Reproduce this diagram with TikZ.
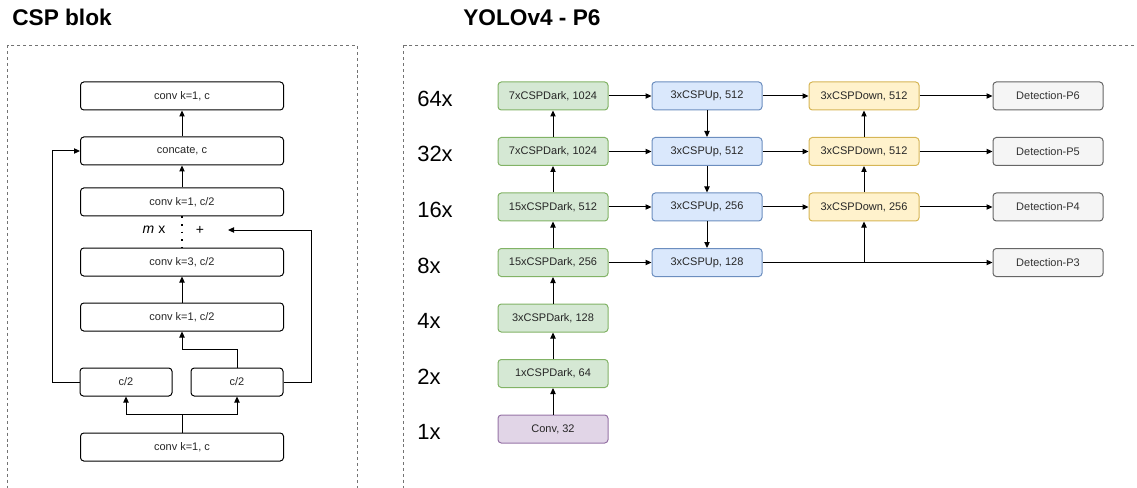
\documentclass[tikz,border=0pt]{standalone}
\usepackage{fontspec}
\setmainfont{Liberation Sans}
\usepackage{tikz}
\usetikzlibrary{arrows.meta}
\definecolor{grfill}{HTML}{D5E8D4}\definecolor{grline}{HTML}{82B366}
\definecolor{blfill}{HTML}{DAE8FC}\definecolor{blline}{HTML}{6C8EBF}
\definecolor{yefill}{HTML}{FFF2CC}\definecolor{yeline}{HTML}{D6B656}
\definecolor{pufill}{HTML}{E1D5E7}\definecolor{puline}{HTML}{9673A6}
\definecolor{gyfill}{HTML}{F5F5F5}\definecolor{gyline}{HTML}{666666}
\definecolor{gytext}{HTML}{333333}

\begin{document}
\begin{tikzpicture}[x=0.75pt,y=-0.75pt,
  box/.style={draw,line width=0.75pt,rounded corners=2.5pt,minimum height=21pt,inner sep=0pt,font=\fontsize{8.25}{9}\selectfont,text=black!85},
  wide/.style={box,minimum width=152.25pt},
  half/.style={box,minimum width=69pt},
  yb/.style={box,minimum width=82.5pt},
  dark/.style={yb,fill=grfill,draw=grline},
  up/.style={yb,fill=blfill,draw=blline},
  down/.style={yb,fill=yefill,draw=yeline},
  first/.style={yb,fill=pufill,draw=puline},
  det/.style={yb,fill=gyfill,draw=gyline,text=gytext},
  scale label/.style={anchor=base west,inner sep=0pt,font=\fontsize{16.5}{18}\selectfont},
  title/.style={anchor=base west,inner sep=0pt,font=\fontsize{17}{19}\selectfont\bfseries},
  arr/.style={-{Triangle[length=4.5pt,width=4pt]},line width=0.75pt},
  frame/.style={draw=black!55,line width=0.6pt,dash pattern=on 2.2pt off 2.2pt}]
\clip (0,0) rectangle (1137,488);
\node[title] (t1) at (12,26) {CSP blok};
\node[title] (t2) at (463,26) {YOLOv4 - P6};
\draw[frame] (7,45.5) rectangle (357,500);
\draw[frame] (403,45.5) rectangle (1150,500);

% CSP blok
\node[wide] (top) at (182,96) {conv k=1, c};
\node[wide] (cat) at (182,151) {concate, c};
\node[wide] (cb) at (182,202) {conv k=1, c/2};
\node[wide] (c3) at (182,262) {conv k=3, c/2};
\node[wide] (ca) at (182,317) {conv k=1, c/2};
\node[half] (sl) at (126,382) {c/2};
\node[half] (sr) at (237,382) {c/2};
\node[wide] (bot) at (182,447) {conv k=1, c};
\node[inner sep=0pt,font=\fontsize{10.5}{12}\selectfont] (mx) at (154,230) {\itshape m\upshape\ x};
\node[inner sep=0pt,font=\fontsize{10.5}{12}\selectfont] (plus) at (200,230) {+};
\coordinate (rep) at (228,230);
\draw[arr] (cat) -- (top);
\draw[arr] (cb) -- (cat);
\draw[arr] (ca) -- (c3);
\draw[line width=1.3pt,dash pattern=on 1.3pt off 4.4pt] (cb.south) -- (c3.north);
\draw[arr] (sr.north) -- ++(0,-18) -| (ca.south);
\draw (bot.north) -- ++(0,-18) coordinate (split);
\draw[arr] (split) -| (sl.south);
\draw[arr] (split) -| (sr.south);
\draw[arr] (sl.west) -- ++(-27.5,0) |- (cat.west);
\draw[arr] (sr.east) -- ++(28,0) |- (rep);

% YOLOv4 - P6
\foreach \lab/\y in {64x/96,32x/151.5,16x/207,8x/262.5,4x/318,2x/373.5,1x/429}
  \node[scale label] at (417,\y+10.5) {\lab};
\node[dark] (d64) at (553,96) {7xCSPDark, 1024};
\node[dark] (d32) at (553,151.5) {7xCSPDark, 1024};
\node[dark] (d16) at (553,207) {15xCSPDark, 512};
\node[dark] (d8) at (553,262.5) {15xCSPDark, 256};
\node[dark] (d4) at (553,318) {3xCSPDark, 128};
\node[dark] (d2) at (553,373.5) {1xCSPDark, 64};
\node[first] (d1) at (553,429) {Conv, 32};
\node[up] (u64) at (707,96) {3xCSPUp, 512};
\node[up] (u32) at (707,151.5) {3xCSPUp, 512};
\node[up] (u16) at (707,207) {3xCSPUp, 256};
\node[up] (u8) at (707,262.5) {3xCSPUp, 128};
\node[down] (y64) at (864,96) {3xCSPDown, 512};
\node[down] (y32) at (864,151.5) {3xCSPDown, 512};
\node[down] (y16) at (864,207) {3xCSPDown, 256};
\node[det] (g6) at (1048,96) {Detection-P6};
\node[det] (g5) at (1048,151.5) {Detection-P5};
\node[det] (g4) at (1048,207) {Detection-P4};
\node[det] (g3) at (1048,262.5) {Detection-P3};
\foreach \a/\b in {d1/d2,d2/d4,d4/d8,d8/d16,d16/d32,d32/d64,u64/u32,u32/u16,u16/u8,y16/y32,y32/y64}
  \draw[arr] (\a) -- (\b);
\foreach \r in {64,32,16}{
  \draw[arr] (d\r) -- (u\r);
  \draw[arr] (u\r) -- (y\r);
}
\draw[arr] (d8) -- (u8);
\draw[arr] (y64) -- (g6);
\draw[arr] (y32) -- (g5);
\draw[arr] (y16) -- (g4);
\draw[arr] (u8) -- (g3);
\coordinate (jn) at (y16 |- u8);
\draw[arr] (jn) -- (y16);
\end{tikzpicture}
\end{document}
